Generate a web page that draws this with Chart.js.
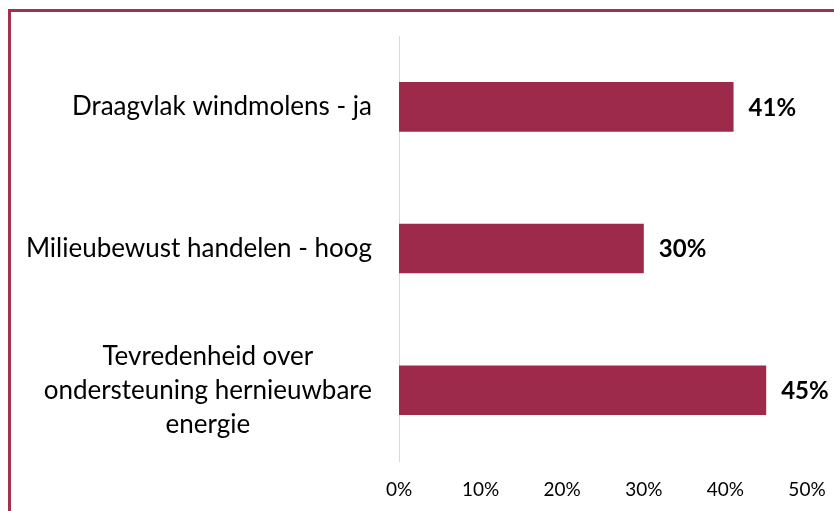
<!DOCTYPE html>
<html>
<head>
<meta charset="utf-8">
<script src="https://cdn.jsdelivr.net/npm/chart.js@4"></script>
<style>
html,body{margin:0;padding:0;background:#fff;overflow:hidden;width:834px;height:511px;}
#frame{position:absolute;left:8px;top:9px;width:900px;height:600px;border:3px solid #A3304F;box-sizing:border-box;}
#wrap{position:absolute;left:0;top:0;width:834px;height:511px;}
</style>
</head>
<body>
<div id="frame"></div>
<div id="wrap"><canvas id="c" width="834" height="511"></canvas></div>
<script>
const categories = [
  ["Draagvlak windmolens - ja"],
  ["Milieubewust handelen - hoog"],
  ["Tevredenheid over", "ondersteuning hernieuwbare", "energie"]
];
const values = [0.41, 0.30, 0.45];
const tickValues = [0, 0.1, 0.2, 0.3, 0.4, 0.5];
const tickLabels = ["0%", "10%", "20%", "30%", "40%", "50%"];

const FONT = "Lato";
const BAR = "#9E2A4B";

const catLabelPlugin = {
  id: "catLabels",
  afterDraw(chart) {
    const ctx = chart.ctx;
    const y = chart.scales.y;
    ctx.save();
    ctx.fillStyle = "#000";
    ctx.font = "26px " + FONT;
    ctx.textBaseline = "middle";
    const right = 372;
    const lh = 34;
    categories.forEach((lines, i) => {
      const cy = y.getPixelForValue(i);
      const widths = lines.map(l => ctx.measureText(l).width);
      const maxW = Math.max(...widths);
      const center = right - maxW / 2;
      lines.forEach((l, j) => {
        const ly = cy + (j - (lines.length - 1) / 2) * lh;
        if (lines.length === 1) {
          ctx.textAlign = "right";
          ctx.fillText(l, right, ly);
        } else {
          ctx.textAlign = "center";
          ctx.fillText(l, center, ly);
        }
      });
    });
    ctx.restore();
  }
};

const valueLabelPlugin = {
  id: "valueLabels",
  afterDatasetsDraw(chart) {
    const ctx = chart.ctx;
    const meta = chart.getDatasetMeta(0);
    ctx.save();
    ctx.fillStyle = "#000";
    ctx.font = "bold 24px " + FONT;
    ctx.textAlign = "left";
    ctx.textBaseline = "middle";
    meta.data.forEach((bar, i) => {
      ctx.fillText(Math.round(values[i] * 100) + "%", bar.x + 15, bar.y + 1);
    });
    ctx.restore();
  }
};

new Chart(document.getElementById("c"), {
  type: "bar",
  data: {
    labels: categories.map(c => c.join(" ")),
    datasets: [{
      data: values,
      backgroundColor: BAR,
      borderWidth: 0,
      barPercentage: 0.7,
      categoryPercentage: 0.5
    }]
  },
  options: {
    indexAxis: "y",
    responsive: false,
    animation: false,
    devicePixelRatio: 1,
    layout: { padding: { top: 36, right: 27, bottom: 0, left: 0 } },
    plugins: { legend: { display: false }, tooltip: { enabled: false } },
    scales: {
      x: {
        min: 0, max: 0.5,
        afterBuildTicks(scale) { scale.ticks = tickValues.map(v => ({ value: v })); },
        afterFit(scale) { scale.height = 50; scale.paddingLeft = 0; scale.paddingRight = 0; },
        grid: { display: false, drawTicks: false },
        border: { display: false },
        ticks: {
          padding: 17,
          color: "#000",
          font: { family: FONT, size: 19 },
          callback: (v, i) => tickLabels[i]
        }
      },
      y: {
        afterFit(scale) { scale.width = 399; },
        grid: { display: false, drawTicks: false },
        border: { display: true, color: "#D9D9D9", width: 1 },
        ticks: { display: false }
      }
    }
  },
  plugins: [catLabelPlugin, valueLabelPlugin]
});
</script>
</body>
</html>
